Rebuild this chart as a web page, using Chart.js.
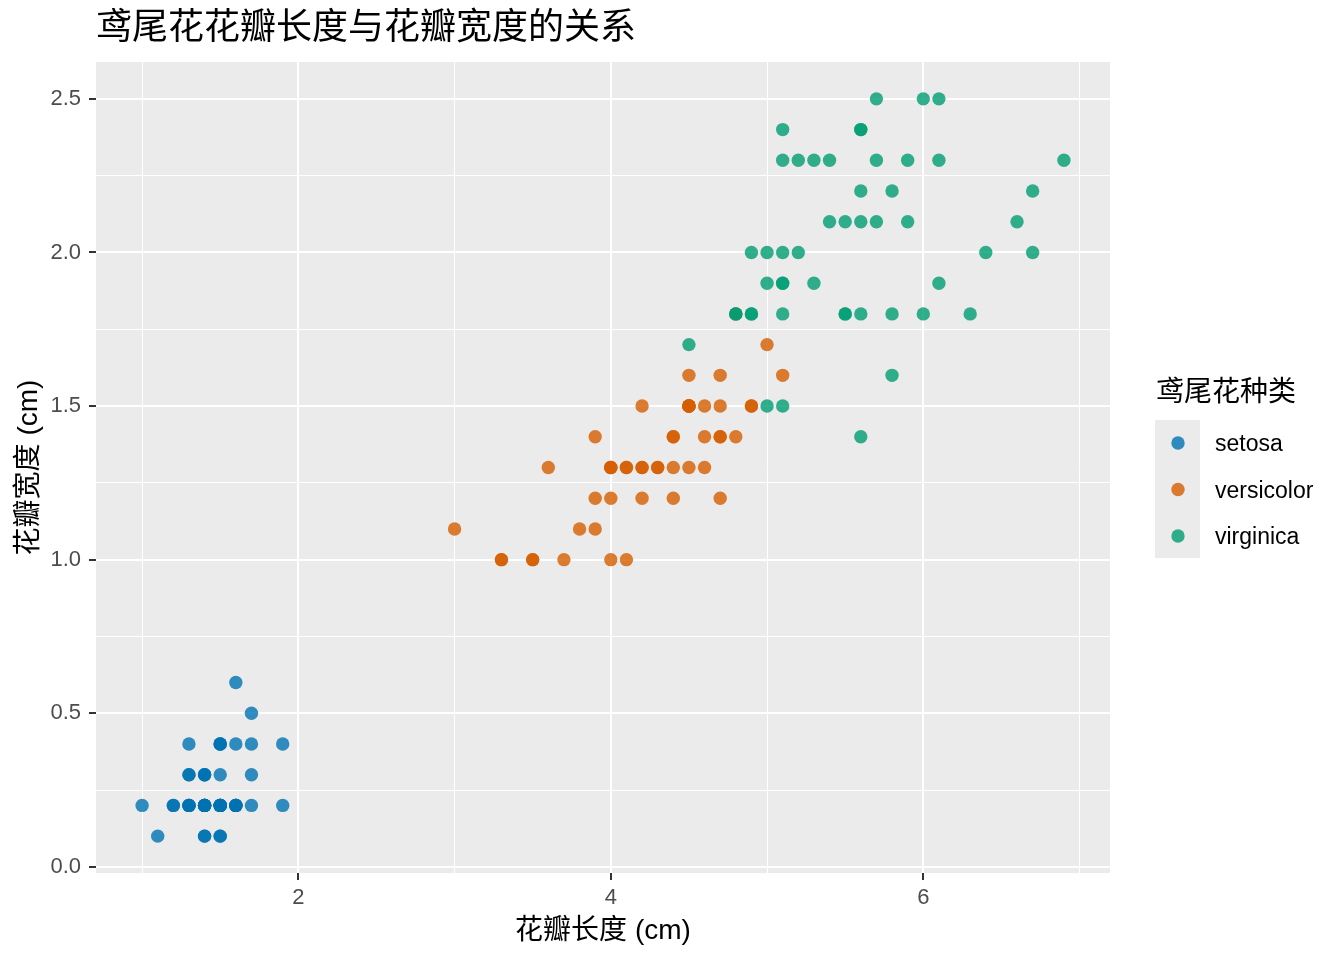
<!DOCTYPE html>
<html>
<head>
<meta charset="utf-8">
<script src="https://cdn.jsdelivr.net/npm/chart.js@4.4.0/dist/chart.umd.min.js"></script>
<style>
  html, body { margin: 0; padding: 0; background: #fff; }
  #wrap { width: 1344px; height: 960px; position: relative; }
</style>
</head>
<body>
<div id="wrap"><canvas id="js-irisChart"></canvas></div>
<script>
// iris petal length / width per species
var species = ['setosa', 'versicolor', 'virginica'];
var speciesColors = ['rgba(0,114,178,0.8)', 'rgba(213,94,0,0.8)', 'rgba(0,158,115,0.8)'];

var setosaLength = [1.4,1.4,1.3,1.5,1.4,1.7,1.4,1.5,1.4,1.5,1.5,1.6,1.4,1.1,1.2,1.5,1.3,1.4,1.7,1.5,
  1.7,1.5,1.0,1.7,1.9,1.6,1.6,1.5,1.4,1.6,1.6,1.5,1.5,1.4,1.5,1.2,1.3,1.4,1.3,1.5,
  1.3,1.3,1.3,1.6,1.9,1.4,1.6,1.4,1.5,1.4];
var setosaWidth = [0.2,0.2,0.2,0.2,0.2,0.4,0.3,0.2,0.2,0.1,0.2,0.2,0.1,0.1,0.2,0.4,0.4,0.3,0.3,0.3,
  0.2,0.4,0.2,0.5,0.2,0.2,0.4,0.2,0.2,0.2,0.2,0.4,0.1,0.2,0.2,0.2,0.2,0.1,0.2,0.2,
  0.3,0.3,0.2,0.6,0.4,0.3,0.2,0.2,0.2,0.2];

var versicolorLength = [4.7,4.5,4.9,4.0,4.6,4.5,4.7,3.3,4.6,3.9,3.5,4.2,4.0,4.7,3.6,4.4,4.5,4.1,4.5,3.9,
  4.8,4.0,4.9,4.7,4.3,4.4,4.8,5.0,4.5,3.5,3.8,3.7,3.9,5.1,4.5,4.5,4.7,4.4,4.1,4.0,
  4.4,4.6,4.0,3.3,4.2,4.2,4.2,4.3,3.0,4.1];
var versicolorWidth = [1.4,1.5,1.5,1.3,1.5,1.3,1.6,1.0,1.3,1.4,1.0,1.5,1.0,1.4,1.3,1.4,1.5,1.0,1.5,1.1,
  1.8,1.3,1.5,1.2,1.3,1.4,1.4,1.7,1.5,1.0,1.1,1.0,1.2,1.6,1.5,1.6,1.5,1.3,1.3,1.3,
  1.2,1.4,1.2,1.0,1.3,1.2,1.3,1.3,1.1,1.3];

var virginicaLength = [6.0,5.1,5.9,5.6,5.8,6.6,4.5,6.3,5.8,6.1,5.1,5.3,5.5,5.0,5.1,5.3,5.5,6.7,6.9,5.0,
  5.7,4.9,6.7,4.9,5.7,6.0,4.8,4.9,5.6,5.8,6.1,6.4,5.6,5.1,5.6,6.1,5.6,5.5,4.8,5.4,
  5.6,5.1,5.1,5.9,5.7,5.2,5.0,5.2,5.4,5.1];
var virginicaWidth = [2.5,1.9,2.1,1.8,2.2,2.1,1.7,1.8,1.8,2.5,2.0,1.9,2.1,2.0,2.4,2.3,1.8,2.2,2.3,1.5,
  2.3,2.0,2.0,1.8,2.1,1.8,1.8,1.8,2.1,1.6,1.9,2.0,2.2,1.5,1.4,2.3,2.4,1.8,1.8,2.1,
  2.4,2.3,1.9,2.3,2.5,2.3,1.9,2.0,2.3,1.8];

var lengths = [setosaLength, versicolorLength, virginicaLength];
var widths = [setosaWidth, versicolorWidth, virginicaWidth];

var titleText = '鸢尾花花瓣长度与花瓣宽度的关系';
var xTitle = '花瓣长度 (cm)';
var yTitle = '花瓣宽度 (cm)';
var legendTitle = '鸢尾花种类';

var FONT = "'Liberation Sans', 'Noto Sans CJK SC', Arial, sans-serif";

document.addEventListener('DOMContentLoaded', function(){

  var datasets = species.map(function(name, i){
    return {
      label: name,
      // later species drawn on top, like ggplot
      order: species.length - i,
      data: lengths[i].map(function(v, j){ return {x: v, y: widths[i][j]}; }),
      backgroundColor: speciesColors[i],
      borderWidth: 0,
      pointRadius: 6.7,
      pointHoverRadius: 6.7
    };
  });

  // grey panel, title and ggplot-like legend
  var ggDecor = {
    id: 'ggDecor',
    beforeDraw: function(chart){
      var a = chart.chartArea, c = chart.ctx;
      c.save();
      c.fillStyle = '#EBEBEB';
      c.fillRect(a.left, a.top, a.right - a.left, a.bottom - a.top);
      c.restore();
    },
    afterDraw: function(chart){
      var c = chart.ctx;
      c.save();
      c.fillStyle = '#000';
      c.textBaseline = 'middle';
      c.textAlign = 'left';
      c.font = '36px ' + FONT;
      c.fillText(titleText, 96, 29);

      c.font = '28px ' + FONT;
      c.fillText(legendTitle, 1156, 393);

      c.fillStyle = '#EBEBEB';
      c.fillRect(1155, 420, 45, 138);
      c.font = '23px ' + FONT;
      species.forEach(function(name, i){
        var cy = 443 + i * 46.5;
        c.fillStyle = speciesColors[i];
        c.beginPath();
        c.arc(1178, cy, 6.7, 0, Math.PI * 2);
        c.fill();
        c.fillStyle = '#000';
        c.fillText(name, 1215, cy + 2);
      });
      c.restore();
    }
  };

  function isMajorY(v){ return Math.abs(v * 2 - Math.round(v * 2)) < 1e-6; }
  function isMajorX(v){ return Math.abs(v / 2 - Math.round(v / 2)) < 1e-6; }

  var ctx = document.getElementById('js-irisChart');
  new Chart(ctx, {
    type: 'scatter',
    data: { datasets: datasets },
    options: {
      responsive: true,
      maintainAspectRatio: false,
      devicePixelRatio: 1,
      animation: false,
      events: [],
      layout: { padding: { top: 62, right: 234, bottom: 0, left: 0 } },
      plugins: {
        legend: { display: false },
        title: { display: false },
        tooltip: { enabled: false }
      },
      scales: {
        x: {
          type: 'linear',
          min: 0.705,
          max: 7.195,
          afterFit: function(s){ s.height = 87; },
          border: { display: false },
          grid: {
            color: '#FFFFFF',
            lineWidth: function(c){ return isMajorX(c.tick.value) ? 2 : 1; },
            drawTicks: true,
            tickLength: 7,
            tickWidth: 2,
            tickColor: function(c){ return isMajorX(c.tick.value) ? '#333333' : 'rgba(0,0,0,0)'; }
          },
          ticks: {
            stepSize: 1,
            maxTicksLimit: 20,
            autoSkip: false,
            includeBounds: false,
            maxRotation: 0,
            padding: 5,
            color: '#4D4D4D',
            font: { family: FONT, size: 22 },
            callback: function(v){ return isMajorX(v) ? String(v) : ''; }
          },
          title: {
            display: true,
            text: xTitle,
            color: '#000',
            font: { family: FONT, size: 28 },
            padding: { top: 0, bottom: 12 }
          }
        },
        y: {
          type: 'linear',
          min: -0.02,
          max: 2.62,
          afterFit: function(s){ s.width = 96; },
          border: { display: false },
          grid: {
            color: '#FFFFFF',
            lineWidth: function(c){ return isMajorY(c.tick.value) ? 2 : 1; },
            drawTicks: true,
            tickLength: 7,
            tickWidth: 2,
            tickColor: function(c){ return isMajorY(c.tick.value) ? '#333333' : 'rgba(0,0,0,0)'; }
          },
          ticks: {
            stepSize: 0.25,
            maxTicksLimit: 20,
            autoSkip: false,
            includeBounds: false,
            padding: 8,
            color: '#4D4D4D',
            font: { family: FONT, size: 22 },
            callback: function(v){ return isMajorY(v) ? v.toFixed(1) : ''; }
          },
          title: {
            display: true,
            text: yTitle,
            color: '#000',
            font: { family: FONT, size: 28 },
            padding: { top: 12, bottom: 0 }
          }
        }
      }
    },
    plugins: [ggDecor]
  });
});
</script>
</body>
</html>
